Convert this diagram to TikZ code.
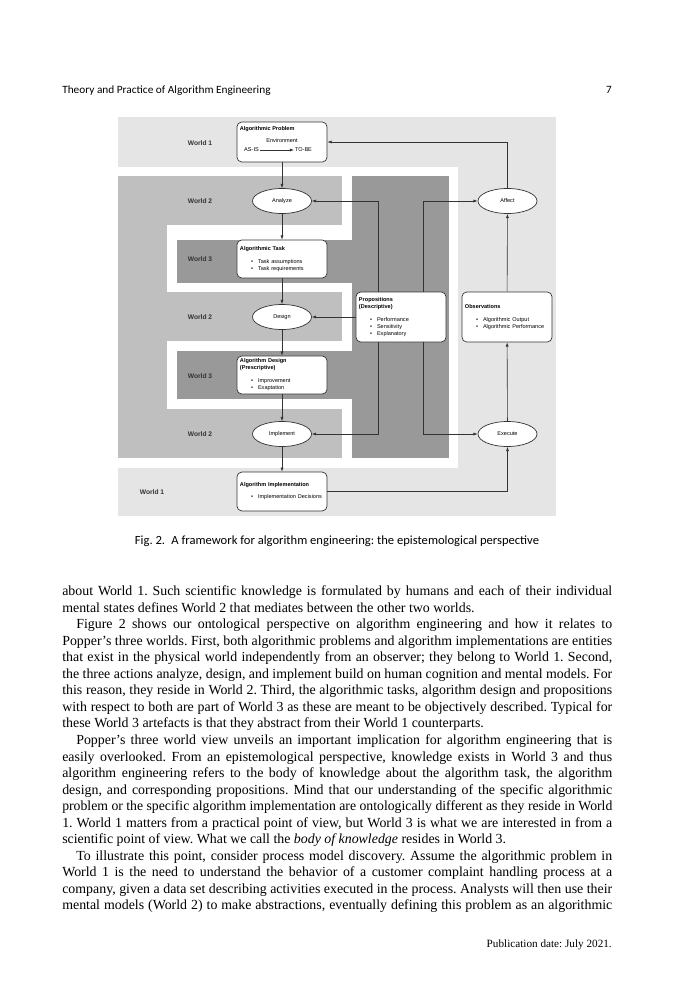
\documentclass[tikz,border=0pt]{standalone}
\usepackage{fontspec}
\setmainfont{Liberation Serif}
\setsansfont{Liberation Sans}
\newfontfamily\headfont{Carlito}
\usepackage{graphicx}
\usetikzlibrary{positioning,shapes.geometric,arrows.meta,calc}
\definecolor{worldone}{gray}{0.90}
\definecolor{worldtwo}{gray}{0.75}
\definecolor{worldthree}{gray}{0.60}
\frenchspacing
\newcommand{\bitem}[1]{\hspace*{8pt}\makebox[5pt][l]{\textbullet}#1}
\newsavebox{\linebox}
% justified line: squeeze if too long, spread spaces if too short
\newcommand{\jline}[2]{%
    \sbox{\linebox}{#2}%
    \ifdim\wd\linebox>#1\relax\resizebox{#1}{\height}{\usebox{\linebox}}%
    \else\makebox[#1][s]{#2}\fi}
\newcommand{\fullline}[1]{\jline{396pt}{#1}}
\newcommand{\indline}[1]{\jline{385.9pt}{#1}}
\newcommand{\lastline}[1]{#1}

\begin{document}
\begin{tikzpicture}[
    x=0.72pt, y=-0.72pt,
    >={Latex[length=3pt,width=2.2pt]},
    worldlabel/.style={font=\sffamily\bfseries\fontsize{4.8}{5.8}\selectfont, text=black!80, inner sep=0pt},
    box/.style={
        rectangle, draw=black!80, fill=white, line width=0.5pt,
        rounded corners=3.5pt, minimum width=64.8pt, minimum height=28pt,
        text width=60.5pt, inner xsep=2.2pt, inner ysep=0pt, align=left,
        font=\sffamily\fontsize{4}{5}\selectfont
    },
    action/.style={
        ellipse, draw=black!80, fill=white, line width=0.5pt,
        minimum width=42.5pt, minimum height=18pt, inner sep=0pt,
        font=\sffamily\fontsize{4}{5}\selectfont
    },
    small/.style={font=\sffamily\fontsize{4}{5}\selectfont, inner sep=0.6pt},
    flow/.style={->, line width=0.45pt, draw=black!80},
    bodyline/.style={font=\fontsize{10}{12}\selectfont, inner sep=0pt, anchor=base west}
]
\useasboundingbox[fill=white] (0,0) rectangle (675,1000);

% Header
\node[anchor=base west, inner sep=0pt] (runhead) at (62,93)
    {\resizebox{150pt}{\height}{\headfont\fontsize{8}{10}\selectfont Theory and Practice of Algorithm Engineering}};
\node[anchor=base east, inner sep=0pt] (pagenum) at (612,93) {\headfont\fontsize{8}{10}\selectfont 7};

% World backgrounds
\fill[worldone] (118,117) rectangle (556,516);
\fill[white] (118,167) rectangle (458,468);
\fill[worldtwo] (118,176) rectangle (167,458);
\foreach \y in {176,292,409}
    \fill[worldtwo] (118,\y) rectangle (342,\y+49);
\fill[worldthree] (352,176) rectangle (449,458);
\fill[worldthree] (177,240) rectangle (352,283);
\fill[worldthree] (177,351) rectangle (352,399);

% World labels
\node[worldlabel] (wone) at (200,143) {World 1};
\node[worldlabel] (wtwoa) at (200,201) {World 2};
\node[worldlabel] (wthreea) at (200,259) {World 3};
\node[worldlabel] (wtwob) at (200,317) {World 2};
\node[worldlabel] (wthreeb) at (200,376) {World 3};
\node[worldlabel] (wtwoc) at (200,434) {World 2};
\node[worldlabel] (wonebot) at (152,492) {World 1};

% Artefacts
\node[box, minimum height=28.8pt] (problem) at (282,142) {};
\node[small, anchor=west, inner sep=0pt, font=\sffamily\bfseries\fontsize{4}{5}\selectfont] (problemtitle) at ($(problem.west)+(3,-13)$) {Algorithmic Problem};
\node[small] (env) at ($(problem.center)+(0,-1)$) {Environment};
\node[small] (asis) at ($(problem.center)+(-30.5,8)$) {AS-IS};
\node[small] (tobe) at ($(problem.center)+(21.5,8)$) {TO-BE};
\draw[flow] (asis) -- (tobe);

\node[box, minimum height=27.4pt] (task) at (282,259)
    {\textbf{Algorithmic Task}\\[4.4pt]\bitem{Task assumptions}\\\bitem{Task requirements}};
\node[box, minimum height=27.4pt] (algdesign) at (282,375)
    {\textbf{Algorithm Design}\\\textbf{(Prescriptive)}\\[4.4pt]\bitem{Improvement}\\\bitem{Exaptation}};
\node[box, minimum height=28pt] (impl) at (282,491.5)
    {\textbf{Algorithm Implementation}\\[3.6pt]\bitem{Implementation Decisions}};
\node[box, minimum height=36pt] (props) at (401,317)
    {\textbf{Propositions}\\\textbf{(Descriptive)}\\[4.4pt]\bitem{Performance}\\\bitem{Sensitivity}\\\bitem{Explanatory}};
\node[box, minimum height=36pt] (observ) at (507,317)
    {\textbf{Observations}\\[4.4pt]\bitem{Algorithmic Output}\\\bitem{Algorithmic Performance}\\[5pt]};

% Actions
\node[action] (analyze) at (282,201) {Analyze};
\node[action] (design) at (282,317) {Design};
\node[action] (implement) at (282,434) {Implement};
\node[action] (affect) at (507.5,201) {Affect};
\node[action] (execute) at (507.5,434) {Execute};

% Main flow
\draw[flow] (problem) -- (analyze);
\draw[flow] (analyze) -- (task);
\draw[flow] (task) -- (design);
\draw[flow] (design) -- (algdesign);
\draw[flow] (algdesign) -- (implement);
\draw[flow] (implement) -- (impl);
\draw[flow] (impl.east) -| (execute);
\draw[flow] (execute) -- (observ);
\draw[flow] (observ) -- (affect);
\draw[flow] (affect.north) |- (problem.east);

% Propositions feed the actions
\draw[flow] ($(props.north)+(-23,0)$) |- (analyze);
\draw[flow] ($(props.north)+(22,0)$) |- (affect);
\draw[flow] (props) -- (design);
\draw[flow] ($(props.south)+(-23,0)$) |- (implement);
\draw[flow] ($(props.south)+(22,0)$) |- (execute);

% Caption
\node[anchor=base, inner sep=0pt] (caption) at (337,544)
    {\resizebox{291pt}{\height}{\headfont\fontsize{9}{11}\selectfont Fig. 2.\enspace A framework for algorithm engineering: the epistemological perspective}};

% Body text
\node[bodyline] (line1) at (62,595.5) {\fullline{about World 1. Such scientific knowledge is formulated by humans and each of their individual}};
\node[bodyline] (line2) at (62,612.05) {\lastline{mental states defines World 2 that mediates between the other two worlds.}};
\node[bodyline] (line3) at (76,628.6) {\indline{Figure 2 shows our ontological perspective on algorithm engineering and how it relates to}};
\node[bodyline] (line4) at (62,645.15) {\fullline{Popper’s three worlds. First, both algorithmic problems and algorithm implementations are entities}};
\node[bodyline] (line5) at (62,661.7) {\fullline{that exist in the physical world independently from an observer; they belong to World 1. Second,}};
\node[bodyline] (line6) at (62,678.25) {\fullline{the three actions analyze, design, and implement build on human cognition and mental models. For}};
\node[bodyline] (line7) at (62,694.8) {\fullline{this reason, they reside in World 2. Third, the algorithmic tasks, algorithm design and propositions}};
\node[bodyline] (line8) at (62,711.35) {\fullline{with respect to both are part of World 3 as these are meant to be objectively described. Typical for}};
\node[bodyline] (line9) at (62,727.9) {\lastline{these World 3 artefacts is that they abstract from their World 1 counterparts.}};
\node[bodyline] (line10) at (76,744.45) {\indline{Popper’s three world view unveils an important implication for algorithm engineering that is}};
\node[bodyline] (line11) at (62,761.0) {\fullline{easily overlooked. From an epistemological perspective, knowledge exists in World 3 and thus}};
\node[bodyline] (line12) at (62,777.55) {\fullline{algorithm engineering refers to the body of knowledge about the algorithm task, the algorithm}};
\node[bodyline] (line13) at (62,794.1) {\fullline{design, and corresponding propositions. Mind that our understanding of the specific algorithmic}};
\node[bodyline] (line14) at (62,810.65) {\fullline{problem or the specific algorithm implementation are ontologically different as they reside in World}};
\node[bodyline] (line15) at (62,827.2) {\fullline{1. World 1 matters from a practical point of view, but World 3 is what we are interested in from a}};
\node[bodyline] (line16) at (62,843.75) {\lastline{scientific point of view. What we call the \textit{body of knowledge} resides in World 3.}};
\node[bodyline] (line17) at (76,860.3) {\indline{To illustrate this point, consider process model discovery. Assume the algorithmic problem in}};
\node[bodyline] (line18) at (62,876.85) {\fullline{World 1 is the need to understand the behavior of a customer complaint handling process at a}};
\node[bodyline] (line19) at (62,893.4) {\fullline{company, given a data set describing activities executed in the process. Analysts will then use their}};
\node[bodyline] (line20) at (62,909.95) {\fullline{mental models (World 2) to make abstractions, eventually defining this problem as an algorithmic}};

% Footer
\node[anchor=base east, inner sep=0pt] (pubdate) at (612,947)
    {\resizebox{90pt}{\height}{\fontsize{8}{10}\selectfont Publication date: July 2021.}};
\end{tikzpicture}
\end{document}
